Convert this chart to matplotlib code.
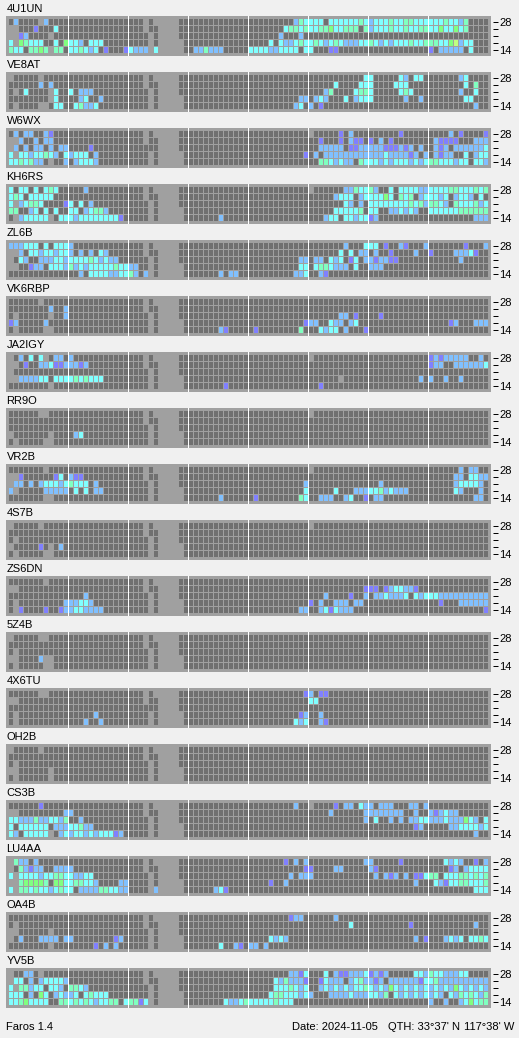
import numpy as np
import matplotlib
matplotlib.use('Agg')
import matplotlib.pyplot as plt

# letters: p weakest ... y strongest, '#' = monitored but nothing heard
COLORS = {'#': '#707070', 'p': '#8080ff', 'b': '#80c0ff', 'c': '#80ffff',
          'a': '#80ffc0', 'g': '#80ff80', 'y': '#c0ff80'}
BANDS = ['28', '', '', '', '14']
HOUR_MARKS = [12, 24, 36, 48, 60, 72, 84]
NCOLS = 96

# slots that are never recorded, per band row
NO_DATA = [
    [27, 29, 30, 31, 32, 33],
    [27, 30, 31, 32, 33],
    [28, 30, 31, 32, 33],
    [28, 30, 31, 32, 33, 34],
    [28, 30, 31, 32, 33, 34],
]

STATIONS = ['4U1UN', 'VE8AT', 'W6WX', 'KH6RS', 'ZL6B', 'VK6RBP', 'JA2IGY', 'RR9O', 'VR2B',
            '4S7B', 'ZS6DN', '5Z4B', '4X6TU', 'OH2B', 'CS3B', 'LU4AA', 'OA4B', 'YV5B']

HOLES = {
    '4U1UN': [[6], [0, 1], [0, 1, 8], [1], [8]],
    'VE8AT': [[0, 6], [], [1, 8], [8], [1, 6, 7]],
    'W6WX': [[60], [0, 1], [0], [1], [8]],
    'KH6RS': [[60], [], [1], [], [1, 8]],
    'ZL6B': [[], [0, 1], [0], [0, 1], []],
    'VK6RBP': [[6], [], [1, 8], [], [1, 7, 8]],
    'JA2IGY': [[0, 7, 60], [0, 1], [0], [0, 1, 66], [8]],
    'RR9O': [[6, 7, 60], [], [], [0, 8], [1, 7, 8]],
    'VR2B': [[7, 60], [0, 1], [0], [1], [7, 8]],
    '4S7B': [[0, 6, 60], [], [1], [0, 8], [1, 7, 8]],
    'ZS6DN': [[7], [0, 1], [], [1], [1]],
    '5Z4B': [[0, 6, 7], [], [1], [0, 1, 7, 8], [1, 7, 8]],
    '4X6TU': [[6, 7], [0, 1], [], [1], [1]],
    'OH2B': [[0, 6], [], [1], [0, 1, 8], [1, 8]],
    'CS3B': [[60], [0, 1], [], [], [8]],
    'LU4AA': [[0], [0], [1], [0, 1], [1]],
    'OA4B': [[], [1], [0, 1, 8], [0, 8], [8]],
    'YV5B': [[0, 6], [0], [1], [], []],
}

# heard slots, {first slot: letters} for each band row from 28 down to 14
HEARD = {}
HEARD['4U1UN'] = [
    {1: 'b', 7: 'b', 57: 'bacccc#ccccccacb', 73: 'cccaccaaccccccacc', 90: 'ba'},
    {5: 'p', 9: 'c', 55: 'caacaccaag', 65: 'ccaaa#ab', 73: 'cccaccaccaacc', 86: 'gccgca'},
    {2: 'pb', 54: 'b', 58: 'b'},
    {0: 'c', 2: 'gaccc', 9: 'c', 11: 'gccb', 16: 'ccc', 52: 'c',
     54: 'cbbcaccacbcacbbbccacbcbcccaccaaaccgybcc'},
    {0: 'acc', 4: 'aaga', 9: 'aa', 12: 'ccacbc', 19: 'p', 23: 'pcbbb', 29: 'c', 37: 'bbabbb',
     48: 'cc', 50: 'ccbbcccc', 59: 'cc', 64: 'pp', 84: 'p', 86: 'bbbbb', 92: 'c'},
]
HEARD['VE8AT'] = [
    {71: 'cc', 78: 'cb', 81: 'cc', 90: 'bc'},
    {6: 'b', 8: 'b', 65: 'c', 70: 'ccc', 77: 'ccc', 91: 'c', 93: 'a'},
    {3: 'c', 9: 'c', 12: 'c', 14: 'bbb', 63: 'ba', 69: 'caac', 78: 'cac', 90: 'b', 93: 'c'},
    {9: 'c', 14: 'bc', 18: 'b', 58: 'bb', 61: 'bcb', 67: 'c', 69: 'bccc', 79: 'b', 82: 'b', 91: 'cc'},
    {9: 'cc', 13: 'cabbc', 57: 'bc', 60: 'b', 62: 'p', 93: 'b'},
]
HEARD['W6WX'] = [
    {1: 'b', 3: 'bb', 7: 'bp', 66: 'p', 68: 'b', 78: 'p', 88: 'b', 90: 'p', 95: 'p'},
    {2: 'b', 5: 'b', 7: 'bb', 62: 'p', 66: 'p', 68: 'bpp', 72: 'p', 74: 'b', 76: 'p', 85: 'bpppp',
     93: 'bbb'},
    {1: 'b', 3: 'b', 5: 'bb', 8: 'b', 10: 'bb', 16: 'p', 28: '#', 62: 'bbbbb', 68: 'ppbbbbbpppbp',
     80: 'b', 82: 'b', 85: 'bpb', 89: 'bbbbbb', 95: 'c'},
    {0: 'c', 2: 'ccbccac', 9: 'b', 11: 'cbccc', 17: 'b', 59: 'p', 61: 'b', 63: 'bbbbbbbbbbbbcbbbb',
     80: 'pb', 83: 'b', 85: 'bpbb', 91: 'c', 93: 'bcc'},
    {0: 'ccacabb', 11: 'b', 13: 'bcccb', 62: 'aacbcbb', 70: 'ac', 72: 'ccbcbcccbcbc', 84: 'aac',
     87: 'ccbcc', 93: 'ccb'},
]
HEARD['KH6RS'] = [
    {0: 'c', 2: 'cc', 5: 'c', 7: 'cac', 15: 'b', 67: 'bbacc', 72: 'ab', 76: 'c', 78: 'ccccbb',
     84: 'ccccaacccaca'},
    {0: 'cac', 4: 'ccccc', 65: 'bccc', 70: 'bc', 72: 'cccgc', 78: 'aca', 82: 'bc',
     84: 'ccbc', 89: 'bccb', 94: 'c'},
    {0: 'c', 2: 'bcaac', 11: 'pc', 14: 'c', 16: 'b', 67: 'cb', 70: 'b', 72: 'cccccccc', 80: 'acabaacb',
     89: 'accca', 94: 'bc'},
    {0: 'aa', 4: 'bc', 7: 'c', 9: 'c', 12: 'cc', 15: 'bcaab', 65: 'ccccca', 72: 'cc', 76: 'bb',
     78: 'cbcb', 84: 'cccccc', 90: 'aaaaaa'},
    {2: 'bccccc', 10: 'ccc', 13: 'bcccccccc', 22: 'p', 42: 'b', 63: 'bcc', 67: 'ccbcc', 72: 'pb',
     93: 'bbb'},
]
HEARD['ZL6B'] = [
    {0: 'bbbccc', 7: 'c', 9: 'cccb', 67: 'b', 71: 'ccc', 75: 'p', 78: 'bp', 83: 'b', 91: 'p', 95: 'b'},
    {2: 'b', 4: 'ccbccbccb', 14: 'b', 16: 'b', 18: 'cb', 66: 'c', 68: 'c', 70: 'bb', 73: 'b', 76: 'p',
     81: 'b', 84: 'p', 89: 'bbbcp'},
    {2: 'cb', 6: 'bbbccbccccacbcbb', 58: 'bb', 61: 'bb', 64: 'cbc', 68: 'pc', 71: 'bbpbbpp', 90: 'b'},
    {4: 'pbb', 8: 'cccba', 13: 'bcbcccccaccbb', 58: 'cc', 61: 'caacbbb', 69: 'c', 72: 'bbb'},
    {14: 'b', 16: 'ccccbbccab', 27: 'b', 42: 'b', 44: 'bb', 57: 'bbc', 62: 'bp'},
]
HEARD['VK6RBP'] = [
    {},
    {8: 'b', 11: 'b'},
    {11: 'b', 66: 'bb', 69: 'p', 74: 'p'},
    {0: 'pb', 7: 'b', 59: 'pbb', 64: 'cb', 66: 'b', 68: 'bc', 88: 'pb', 93: 'bbb'},
    {42: 'bp', 49: 'p', 58: 'a', 62: 'cbcc', 67: 'b', 71: 'p'},
]
HEARD['JA2IGY'] = [
    {2: 'b', 4: 'c', 6: 'c', 9: 'bb', 12: 'b', 84: 'pbpbbbbb', 94: 'b'},
    {3: 'p', 6: 'bbcppbbbpb', 84: 'pbb', 89: 'bbbbbb', 95: 'c'},
    {},
    {2: 'bbbbcc', 9: 'ccccacaccc', 82: 'b', 84: 'b', 87: 'b', 90: 'b'},
    {43: 'p', 62: 'p'},
]
HEARD['RR9O'] = [{}, {}, {}, {13: 'bc'}, {}]
HEARD['VR2B'] = [
    {90: 'b', 92: 'bb'},
    {2: 'p', 9: 'pc', 12: 'bpp', 89: 'bb', 92: 'ccbb'},
    {1: 'bb', 4: 'b', 6: 'bcccbcaccc', 17: 'b', 59: 'b', 74: 'b', 89: 'bccccb'},
    {0: 'b', 7: 'bbbbb', 13: 'c', 15: 'c', 17: 'bb', 59: 'c', 65: 'c', 69: 'bbbcca', 75: 'bcbbb',
     89: 'cb', 94: 'b'},
    {42: 'b', 49: 'p', 58: 'ac', 62: 'bbb', 67: 'bc', 71: 'p', 73: 'bb', 93: 'bb'},
]
HEARD['4S7B'] = [{}, {}, {}, {6: 'p', 10: 'b'}, {}]
HEARD['ZS6DN'] = [
    {},
    {71: 'ppp', 75: 'pbccbbp'},
    {15: 'b', 63: 'b', 68: 'p', 71: 'b', 73: 'bbcbbbc', 81: 'cbccc', 86: 'bbbbbbbbbb'},
    {11: 'bbbccb', 60: 'p', 62: 'b', 65: 'bbb', 69: 'bb', 86: 'p', 90: 'bbbbbb'},
    {2: 'p', 7: 'p', 10: 'pbbccbbbb', 58: 'bb', 62: 'bcpcbbb', 95: 'p'},
]
HEARD['5Z4B'] = [{}, {}, {}, {6: 'b'}, {}]
HEARD['4X6TU'] = [
    {59: 'pb', 62: 'pp'},
    {60: 'cc'},
    {28: '#'},
    {17: 'b', 58: 'pb', 62: 'b'},
    {15: 'b', 18: 'b', 57: 'cbc', 62: 'bp'},
]
HEARD['OH2B'] = [{}, {}, {}, {}, {}]
HEARD['CS3B'] = [
    {6: 'p', 57: 'b', 65: 'p', 67: 'bb', 70: 'cbb', 74: 'bbb', 80: 'bb', 83: 'b'},
    {11: 'bb', 64: 'b', 71: 'bbbbbbbb', 81: 'b', 84: 'bpbcbb'},
    {0: 'ccbbbabbccba', 14: 'b', 71: 'b', 73: 'c', 76: 'b', 78: 'b', 80: 'bbcc', 84: 'bbbcbbb',
     91: 'gcb', 95: 'c'},
    {0: 'c', 2: 'cccccc', 9: 'bbbccabb', 81: 'pb', 88: 'bb', 90: 'ccccb', 95: 'c'},
    {0: 'cb', 3: 'ccccc', 10: 'bcbccbcbcccpb', 93: 'b'},
]
HEARD['LU4AA'] = [
    {1: 'abb', 5: 'b', 55: 'p', 57: 'b', 59: 'b', 71: 'bb', 78: 'p', 87: 'cbcb', 93: 'p', 95: 'b'},
    {2: 'abpbb', 9: 'bbbb', 59: 'pp', 65: 'bb', 72: 'bp', 88: 'pb', 91: 'bcccc'},
    {0: 'c', 2: 'ccccbccaaccbbcc', 56: 'b', 58: 'bbb', 73: 'b', 75: 'bpb', 79: 'b', 81: 'pp',
     83: 'caa', 87: 'cccaacaca'},
    {2: 'agggg', 7: 'a', 9: 'gg', 11: 'ccaaccb', 22: 'bb', 52: 'p', 55: 'b', 81: 'b',
     85: 'cbpccaaccca'},
    {0: 'c', 2: 'aacaccbcacc', 14: 'bbbbaaccbb', 29: 'b', 41: 'bcp', 93: 'ccc'},
]
HEARD['OA4B'] = [
    {56: 'pbb', 65: 'b'},
    {68: 'c', 80: 'p', 93: 'b'},
    {},
    {2: 'b', 6: 'bbbb', 11: 'bb', 21: 'pb', 52: 'cbcb', 81: 'b', 83: 'p', 87: 'bcbc', 92: 'ccac'},
    {17: 'p', 19: 'b', 21: 'b', 42: 'c', 45: 'bp', 48: 'bb', 51: 'b'},
]
HEARD['YV5B'] = [
    {3: 'bb', 56: 'bbpc', 63: 'c', 65: 'bppbbbc', 72: 'pbpb', 81: 'ccb', 84: 'accbbbcc'},
    {1: 'cc', 4: 'b', 6: 'bccccb', 53: 'cba', 56: 'bbbp', 62: 'p', 63: 'cbbb', 68: 'bcab', 72: 'bpb',
     76: 'bbbbbb', 82: 'pcca', 86: 'bbbbbbbbbb'},
    {0: 'c', 2: 'aabcc', 8: 'ccb', 12: 'aacb', 53: 'cccacbc', 62: 'b',
     63: 'cbcbcbccac', 73: 'bcb', 76: 'gcbcbcbcbcbcb', 89: 'gcbcbcb'},
    {0: 'ccc', 4: 'b', 6: 'gc', 9: 'bcbbc', 15: 'caccc', 52: 'caacccbcb', 64: 'bbbbcbbbccb', 75: 'a',
     77: 'cbcbcbcbcb', 88: 'cbacacba'},
    {0: 'ccagcccc', 10: 'aacacacbccaa', 23: 'caapc', 43: 'cbbca', 48: 'cc', 50: 'cccaccc',
     84: 'b', 87: 'b', 90: 'bcg', 93: 'caa'},
]


def build_rows(name):
    rows = []
    for r in range(5):
        cells = ['#'] * NCOLS
        for c in NO_DATA[r] + HOLES[name][r]:
            cells[c] = None
        for start, letters in HEARD[name][r].items():
            for i, ch in enumerate(letters):
                cells[start + i] = ch
        rows.append(cells)
    return rows


plt.rcParams['font.family'] = ['Liberation Sans', 'DejaVu Sans']

W, H = 519, 1038
fig = plt.figure(figsize=(W / 100, H / 100), dpi=100, facecolor='#f0f0f0')

for i, name in enumerate(STATIONS):
    top = 16 + 56 * i
    ax = fig.add_axes([6 / W, 1 - (top + 40) / H, 485 / W, 40 / H], facecolor='#a0a0a0')
    ax.set_xlim(-0.6, 96.4)
    ax.set_ylim(37 / 7, -3 / 7)

    xs, ys, cols = [], [], []
    for r, cells in enumerate(build_rows(name)):
        for c, ch in enumerate(cells):
            if ch is not None:
                xs.append(c)
                ys.append(r)
                cols.append(COLORS[ch])
    ax.bar(xs, [6 / 7] * len(xs), width=0.8, bottom=ys, color=cols, align='edge',
           linewidth=0, snap=True)

    for m in HOUR_MARKS:
        ax.axvline(m - 0.12, color='white', lw=0.72, zorder=3, snap=True)

    for s in ax.spines.values():
        s.set_visible(False)
    ax.spines['right'].set_position(('outward', 1.5))
    ax.set_xticks([])
    ax.yaxis.tick_right()
    ax.set_yticks(np.arange(5) + 3 / 7, BANDS)
    ax.tick_params(axis='y', length=3.6, width=0.72, pad=1.0, labelsize=8, colors='black')

    fig.text(6.5 / W, 1 - (top - 3.5) / H, name, fontsize=8, color='black', va='baseline')

fig.text(6.5 / W, 1 - 1030 / H, 'Faros 1.4', fontsize=8, color='black', va='baseline')
fig.text(292 / W, 1 - 1030 / H, "Date: 2024-11-05", fontsize=8, color='black', va='baseline')
fig.text(387.5 / W, 1 - 1030 / H, "QTH: 33\u00b037' N", fontsize=8, color='black', va='baseline')
fig.text(464 / W, 1 - 1030 / H, "117\u00b038' W", fontsize=8, color='black', va='baseline')

fig.savefig('out.png', dpi=100, facecolor=fig.get_facecolor())
